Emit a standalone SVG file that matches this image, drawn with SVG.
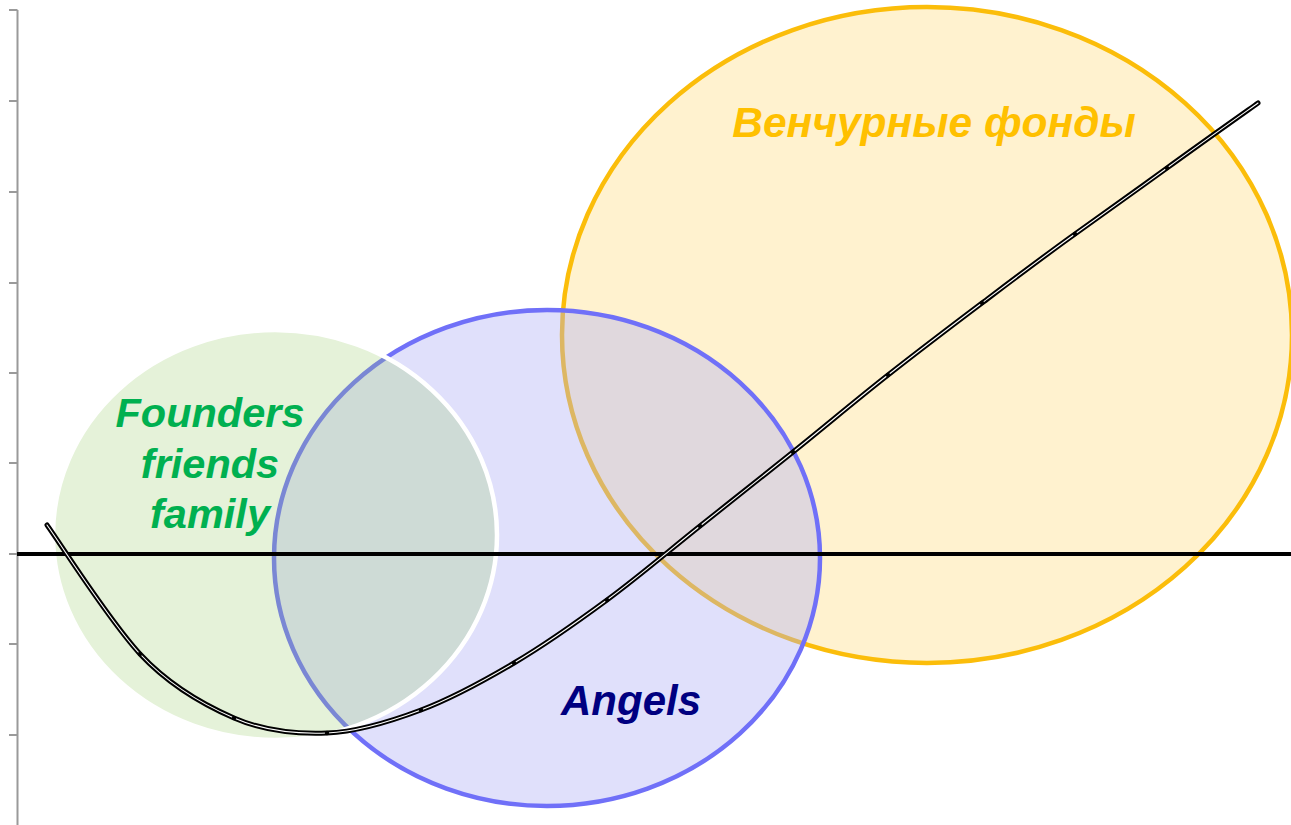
<svg xmlns="http://www.w3.org/2000/svg" width="1291" height="825" viewBox="0 0 1291 825">
<style>
.lbl{font-family:"Liberation Sans",Arial,sans-serif;font-weight:bold;font-style:italic;text-anchor:middle}
.tick{stroke:#9a9a9a;stroke-width:2}
.dot{fill:#000}
.outer{fill:none;stroke:#000;stroke-width:5;stroke-linecap:round;stroke-linejoin:round}
.inner{fill:none;stroke:#fff;stroke-width:1.1;stroke-linecap:round;stroke-linejoin:round}
</style>
<defs>
<path id="cp" d="M47,525 C64,549 108,619 140,654 C170,686.2 203,704.5 234,718 C265,731.5 295.8,734.2 327,733 C358.2,731.8 390,721.7 421,710 C452,698.3 483,681.3 514,663 C545,644.7 576,622.8 607,600 C638,577.2 669,550.7 700,526 C731,501.3 761.2,477.5 793,452 C824.8,426.5 856.5,399.7 888,375 C919.5,350.3 950.8,326.5 982,303 C1013.2,279.5 1044.2,256 1075,234 C1105.8,212 1136.5,190.2 1167,168 C1197.5,145.8 1242.8,113.8 1258,103"/>
</defs>
<rect width="1291" height="825" fill="#ffffff"/>
<g id="axis-y">
<line class="tick" x1="17.5" y1="10" x2="17.5" y2="825"/>
<line class="tick" x1="9" y1="10" x2="17.5" y2="10"/>
<line class="tick" x1="9" y1="101" x2="17.5" y2="101"/>
<line class="tick" x1="9" y1="192" x2="17.5" y2="192"/>
<line class="tick" x1="9" y1="283" x2="17.5" y2="283"/>
<line class="tick" x1="9" y1="373" x2="17.5" y2="373"/>
<line class="tick" x1="9" y1="463" x2="17.5" y2="463"/>
<line class="tick" x1="9" y1="554" x2="17.5" y2="554"/>
<line class="tick" x1="9" y1="644" x2="17.5" y2="644"/>
<line class="tick" x1="9" y1="735" x2="17.5" y2="735"/>
</g>
<g id="venture">
<ellipse cx="927" cy="335" rx="365" ry="328" fill="#fff2cf" stroke="#fbbd0a" stroke-width="4.5"/>
<text class="lbl" x="934" y="137" font-size="42.5" fill="#ffc000">Венчурные фонды</text>
</g>
<g id="angels">
<ellipse cx="547" cy="558" rx="273" ry="248" fill="rgb(174,174,245)" fill-opacity="0.38" stroke="#7070f8" stroke-width="4.5"/>
<text class="lbl" x="631" y="715" font-size="42" fill="#000080">Angels</text>
</g>
<g id="founders">
<ellipse cx="275" cy="535" rx="222" ry="205" fill="rgb(152,204,104)" fill-opacity="0.25" stroke="#ffffff" stroke-width="4.5"/>
<text class="lbl" x="210" y="427" font-size="41.5" fill="#00b050">Founders</text>
<text class="lbl" x="210" y="478" font-size="41.5" fill="#00b050">friends</text>
<text class="lbl" x="210" y="528" font-size="41.5" fill="#00b050">family</text>
</g>
<g id="connectors">
<line x1="17" y1="554" x2="1291" y2="554" stroke="#000" stroke-width="4"/>
<g id="curve">
<use href="#cp" class="outer"/>
<use href="#cp" class="inner"/>
</g>
<g id="points">
<circle class="dot" cx="140" cy="654" r="2.2"/>
<circle class="dot" cx="234" cy="718" r="2.2"/>
<circle class="dot" cx="327" cy="733" r="2.2"/>
<circle class="dot" cx="421" cy="710" r="2.2"/>
<circle class="dot" cx="514" cy="663" r="2.2"/>
<circle class="dot" cx="607" cy="600" r="2.2"/>
<circle class="dot" cx="700" cy="526" r="2.2"/>
<circle class="dot" cx="793" cy="452" r="2.2"/>
<circle class="dot" cx="888" cy="375" r="2.2"/>
<circle class="dot" cx="982" cy="303" r="2.2"/>
<circle class="dot" cx="1075" cy="234" r="2.2"/>
<circle class="dot" cx="1167" cy="168" r="2.2"/>
</g>
</g>
</svg>
